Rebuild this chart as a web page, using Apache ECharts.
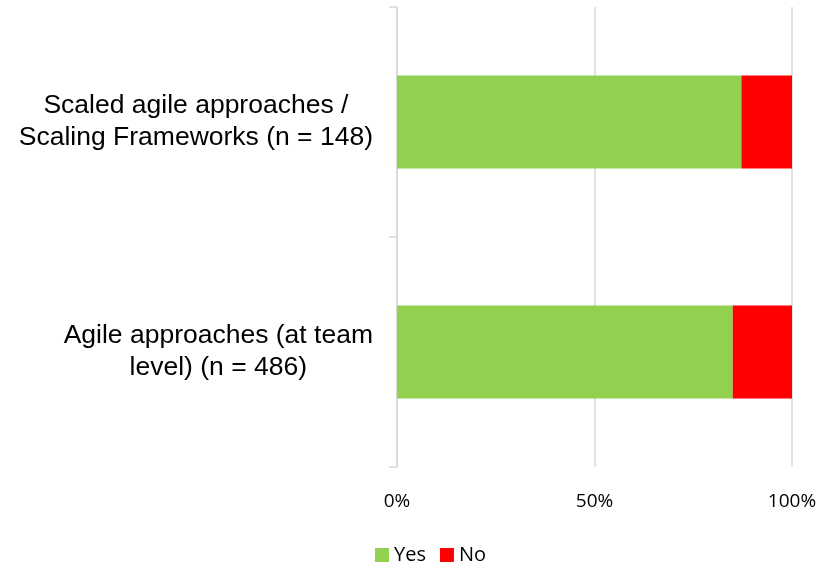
<!DOCTYPE html>
<html>
<head>
<meta charset="utf-8">
<script src="https://cdn.jsdelivr.net/npm/echarts@6/dist/echarts.min.js"></script>
<style>html,body{margin:0;padding:0;background:#fff}#c{width:832px;height:563px}</style>
</head>
<body>
<div id="c"></div>
<script>
var categories = ['Agile approaches (at team\nlevel) (n = 486)', 'Scaled agile approaches /\nScaling Frameworks (n = 148)'];
var yesValues = [85.0, 87.2];
var noValues = [15.0, 12.8];
var xTicks = [0, 50, 100];

var chart = echarts.init(document.getElementById('c'));
chart.setOption({
  animation: false,
  grid: { left: 397, right: 40, top: 7, bottom: 96, containLabel: false },
  legend: {
    data: ['Yes', 'No'],
    left: 370, top: 540,
    icon: 'rect', itemWidth: 14, itemHeight: 14, itemGap: 14,
    textStyle: { fontFamily: 'Open Sans', fontSize: 20, color: '#000', padding: [0, 0, 0, 0] }
  },
  xAxis: {
    type: 'value', min: 0, max: 100, interval: 50,
    axisLine: { show: false }, axisTick: { show: false },
    splitLine: { show: true, lineStyle: { color: '#d9d9d9', width: 1.5 } },
    axisLabel: {
      margin: 25, color: '#000', fontFamily: 'Open Sans', fontSize: 19,
      formatter: function (v) { return xTicks.indexOf(v) >= 0 ? v + '%' : ''; }
    }
  },
  yAxis: {
    type: 'category', data: categories,
    axisLine: { show: true, lineStyle: { color: '#d9d9d9', width: 1.5 } },
    axisTick: { show: true, length: 8, lineStyle: { color: '#d9d9d9', width: 1.5 } },
    axisLabel: {
      margin: 24, color: '#000', fontFamily: 'Liberation Sans', fontSize: 26.5, lineHeight: 32,
      formatter: function (v) { return v.split('\n').map(function (s) { return '{c|' + s + '}'; }).join('\n'); },
      rich: { c: { align: 'center', fontFamily: 'Liberation Sans', fontSize: 26.5, lineHeight: 32, color: '#000' } }
    }
  },
  series: [
    { name: 'Yes', type: 'bar', stack: 't', data: yesValues, barWidth: 93, itemStyle: { color: '#92D050' } },
    { name: 'No', type: 'bar', stack: 't', data: noValues, barWidth: 93, itemStyle: { color: '#FF0000' } }
  ]
});
</script>
</body>
</html>
